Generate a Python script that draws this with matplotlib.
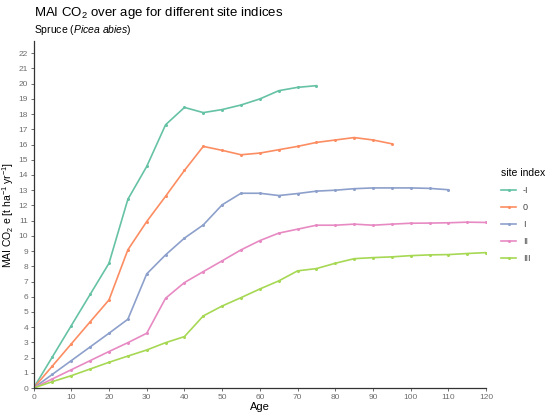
import numpy as np
import matplotlib
matplotlib.use("Agg")
import matplotlib.pyplot as plt

plt.rcParams['font.family'] = ['Liberation Sans', 'DejaVu Sans']
plt.rcParams['mathtext.fontset'] = 'custom'
plt.rcParams['mathtext.rm'] = 'Liberation Sans'
plt.rcParams['mathtext.it'] = 'Liberation Sans:italic'

# site index classes and their MAI CO2 values (every 5 years)
site_indices = ["-I", "0", "I", "II", "III"]
colors = ["#66C2A5", "#FC8D62", "#8DA0CB", "#E78AC3", "#A6D854"]

age_m1 = [0, 5, 10, 15, 20, 25, 30, 35, 40, 45, 50, 55, 60, 65, 70, 75]
mai_m1 = [0, 2.05, 4.1, 6.15, 8.2, 12.4, 14.56, 17.3, 18.44, 18.1, 18.3, 18.6, 19.0, 19.54, 19.76, 19.87]

age_0 = [0, 5, 10, 15, 20, 25, 30, 35, 40, 45, 50, 55, 60, 65, 70, 75, 80, 85, 90, 95]
mai_0 = [0, 1.45, 2.9, 4.35, 5.79, 9.08, 10.94, 12.6, 14.3, 15.88, 15.62, 15.33, 15.44, 15.66, 15.88,
         16.14, 16.3, 16.46, 16.3, 16.05]

age_1 = [0, 5, 10, 15, 20, 25, 30, 35, 40, 45, 50, 55, 60, 65, 70, 75, 80, 85, 90, 95, 100, 105, 110]
mai_1 = [0, 0.9, 1.8, 2.7, 3.6, 4.52, 7.5, 8.75, 9.85, 10.72, 12.04, 12.8, 12.8, 12.65, 12.78,
         12.94, 13.0, 13.1, 13.15, 13.15, 13.15, 13.12, 13.03]

age_2 = [0, 5, 10, 15, 20, 25, 30, 35, 40, 45, 50, 55, 60, 65, 70, 75, 80, 85, 90, 95, 100, 105, 110, 115, 120]
mai_2 = [0, 0.6, 1.2, 1.8, 2.4, 2.98, 3.6, 5.9, 6.93, 7.65, 8.36, 9.08, 9.69, 10.18, 10.44,
         10.7, 10.7, 10.77, 10.7, 10.77, 10.83, 10.84, 10.86, 10.9, 10.88]

age_3 = [0, 5, 10, 15, 20, 25, 30, 35, 40, 45, 50, 55, 60, 65, 70, 75, 80, 85, 90, 95, 100, 105, 110, 115, 120]
mai_3 = [0, 0.42, 0.81, 1.25, 1.69, 2.1, 2.5, 2.98, 3.38, 4.74, 5.39, 5.94, 6.51, 7.04, 7.7,
         7.85, 8.2, 8.5, 8.57, 8.62, 8.7, 8.75, 8.77, 8.84, 8.9]

series = [(age_m1, mai_m1), (age_0, mai_0), (age_1, mai_1), (age_2, mai_2), (age_3, mai_3)]

fig = plt.figure(figsize=(5.5, 4.15), dpi=100)
ax = fig.add_axes([0.061, 0.065, 0.823, 0.836])

for (ages, vals), lab, col in zip(series, site_indices, colors):
    ax.plot(ages, vals, color=col, lw=1.2, marker="o", ms=1.2, label=lab)

ax.set_xlim(0, 120)
ax.set_ylim(0, 22.8)
ax.set_xticks(np.arange(0, 121, 10))
ax.set_yticks(np.arange(0, 23, 1))

for s in ["top", "right"]:
    ax.spines[s].set_visible(False)
for s in ["left", "bottom"]:
    ax.spines[s].set_linewidth(0.9)
    ax.spines[s].set_color("#333333")
ax.tick_params(axis="both", labelsize=6, colors="#555555", labelcolor="#6E6E6E",
               length=2.5, width=0.6, pad=1.5)

ax.set_xlabel("Age", fontsize=8, labelpad=1)
ax.set_ylabel("MAI CO$_2$ e [t ha$^{-1}$ yr$^{-1}$]", fontsize=7.5, labelpad=2)

fig.text(0.061, 0.988, "MAI CO$_2$ over age for different site indices", fontsize=9.5, va="top")
fig.text(0.061, 0.945, "Spruce ($\\mathit{Picea\\ abies}$)", fontsize=7.5, va="top")

leg = fig.legend(loc="upper left", bbox_to_anchor=(0.905, 0.605), frameon=False,
                 title="site index", fontsize=6.5, title_fontsize=7.5,
                 handlelength=1.6, handletextpad=0.8, labelspacing=0.9, borderaxespad=0)
leg._legend_box.align = "left"
for t in leg.get_texts():
    t.set_color("#444444")

fig.savefig("out.png", dpi=100)
